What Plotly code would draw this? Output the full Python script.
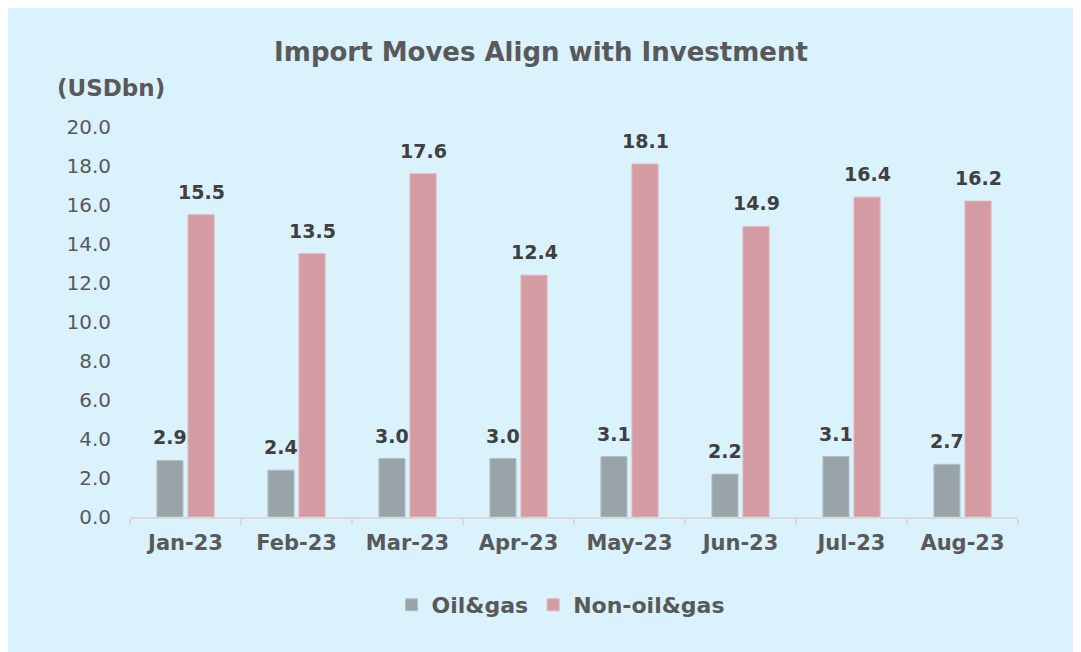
import plotly.graph_objects as go

months = ["Jan-23", "Feb-23", "Mar-23", "Apr-23", "May-23", "Jun-23", "Jul-23", "Aug-23"]
oil_gas = [2.9, 2.4, 3.0, 3.0, 3.1, 2.2, 3.1, 2.7]
non_oil_gas = [15.5, 13.5, 17.6, 12.4, 18.1, 14.9, 16.4, 16.2]
y_ticks = [0, 2, 4, 6, 8, 10, 12, 14, 16, 18, 20]

FONT = "DejaVu Sans"
GREY_TXT = "#595959"
LABEL_TXT = "#404040"
BG = "#daf2fc"

# page body has an 8px margin; layout numbers below are in figure coordinates
W, H = 1081, 652
L, T = 122, 119
pw, ph = 888, 390
R, B = W - L - pw, H - T - ph
BARGAP, GROUPGAP = 0.44, 0.16

fig = go.Figure()
fig.add_trace(go.Bar(
    x=months, y=oil_gas, name="<b>Oil&gas</b>",
    marker=dict(color="#99a4a8", line=dict(color="#b5c0c4", width=1)),
))
fig.add_trace(go.Bar(
    x=months, y=non_oil_gas, name="<b>Non-oil&gas</b>",
    marker=dict(color="#d49ba2", line=dict(color="#e0b6bb", width=1)),
))

# data labels above each bar
cat_w = pw / len(months)
slot = cat_w * (1 - BARGAP) / 2
for series, side in ((oil_gas, -1), (non_oil_gas, 1)):
    for m, v in zip(months, series):
        fig.add_annotation(x=m, y=v, text=f"<b>{v:.1f}</b>", showarrow=False,
                           xanchor="center", yanchor="middle",
                           xshift=side * slot / 2, yshift=23,
                           font=dict(family=FONT, size=19, color=LABEL_TXT))

fig.add_annotation(text="<b>(USDbn)</b>", xref="paper", yref="paper",
                   x=(47 - L) / pw, y=1 + (T - 80) / ph, xanchor="left", yanchor="middle",
                   showarrow=False, font=dict(family=FONT, size=23, color=GREY_TXT))

fig.update_layout(
    width=W, height=H,
    margin=dict(l=L, r=R, t=T, b=B),
    paper_bgcolor=BG, plot_bgcolor=BG,
    title=dict(text="<b>Import Moves Align with Investment</b>", x=533 / W, xref="container",
               y=1 - 44 / H, yref="container", xanchor="center", yanchor="middle",
               font=dict(family=FONT, size=26, color=GREY_TXT)),
    barmode="group", bargap=BARGAP, bargroupgap=GROUPGAP,
    showlegend=True,
    legend=dict(orientation="h", xref="container", yref="container", x=553 / W, y=1 - 597 / H,
                xanchor="center", yanchor="middle", bgcolor="rgba(0,0,0,0)",
                font=dict(family=FONT, size=22, color=GREY_TXT),
                traceorder="normal"),
    font=dict(family=FONT, color=GREY_TXT),
)
fig.update_xaxes(showline=True, linecolor="#d9d9d9", linewidth=2,
                 ticks="outside", tickson="boundaries", ticklen=6, tickcolor="#d9d9d9", tickwidth=2,
                 tickfont=dict(family=FONT, size=21, color=GREY_TXT, weight="bold"),
                 ticklabelstandoff=6, showgrid=False)
fig.update_yaxes(range=[0, 20], tickvals=y_ticks, ticktext=[f"{v:.1f}" for v in y_ticks],
                 showgrid=False, zeroline=False, showline=False, ticks="",
                 tickfont=dict(family=FONT, size=20, color=GREY_TXT),
                 ticklabelstandoff=18)

fig.write_html("out.html")
